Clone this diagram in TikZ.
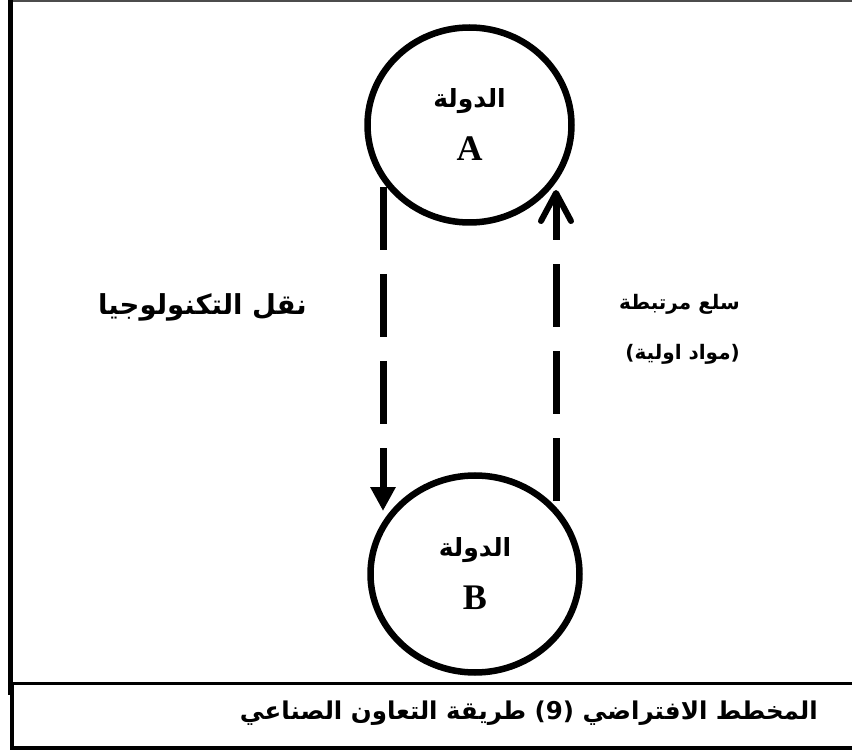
\documentclass[tikz,border=0pt]{standalone}
\usepackage{fontspec}
\usetikzlibrary{shapes.geometric,arrows.meta}
\TeXXeTstate=1
\newfontfamily\arabicfont[Script=Arabic]{DejaVu Sans}
\newfontfamily\seriffont{Liberation Serif}
\begin{document}
\begin{tikzpicture}[x=1pt,y=-1pt,
  frameline/.style={line width=#1,black},
  country/.style={ellipse,draw,line width=6.5pt,inner sep=0pt,align=center,
    font=\fontsize{25}{53}\selectfont},
  flow/.style={line width=7pt,dash pattern=on 63pt off 24pt},
  label/.style={inner sep=0pt,font=\arabicfont\bfseries\fontsize{27.5}{44}\selectfont}]
\useasboundingbox (0,0) rectangle (852,751);
% frame
\draw[line width=2pt,black!70] (12,1) -- (852,1);
\draw[frameline=5pt] (10.5,0) -- (10.5,695);
\draw[frameline=3.5pt] (12,683.5) -- (852,683.5);
\draw[frameline=4pt] (12,683.5) -- (12,749);
\draw[frameline=3.5pt] (10,748) -- (852,748);
% countries
\node[country,minimum width=204pt,minimum height=195pt] (A) at (469.5,125)
  {{\arabicfont\bfseries\beginR الدولة\endR}\\{\seriffont\bfseries\fontsize{36}{53}\selectfont A}};
\node[country,minimum width=209pt,minimum height=197pt] (B) at (475,574)
  {{\arabicfont\bfseries\beginR الدولة\endR}\\{\seriffont\bfseries\fontsize{36}{53}\selectfont B}};
% connector ends
\coordinate (l1) at (383,187);
\coordinate (l2) at (383,511);
\coordinate (r1) at (556,501);
\coordinate (r2) at (556,190);
\draw[flow,-{Triangle[length=24pt,width=24pt]}] (l1) -- (l2);
\draw[flow,-{Straight Barb[length=28pt,width=30pt,line width=6pt,round]}] (r1) -- (r2);
% labels
\node[label,anchor=east] (t1) at (307,307) {\beginR نقل التكنولوجيا\endR};
\node[label,anchor=north east,align=right,font=\arabicfont\bfseries\fontsize{20}{50}\selectfont] (t2) at (740,294)
  {\beginR سلع مرتبطة\endR\\\beginR(مواد اولية)\endR};
\node[inner sep=0pt,anchor=east,font=\arabicfont\bfseries\fontsize{24.5}{28}\selectfont] (cap) at (818,713)
  {\beginR المخطط الافتراضي (9) طريقة التعاون الصناعي\endR};
\end{tikzpicture}
\end{document}
